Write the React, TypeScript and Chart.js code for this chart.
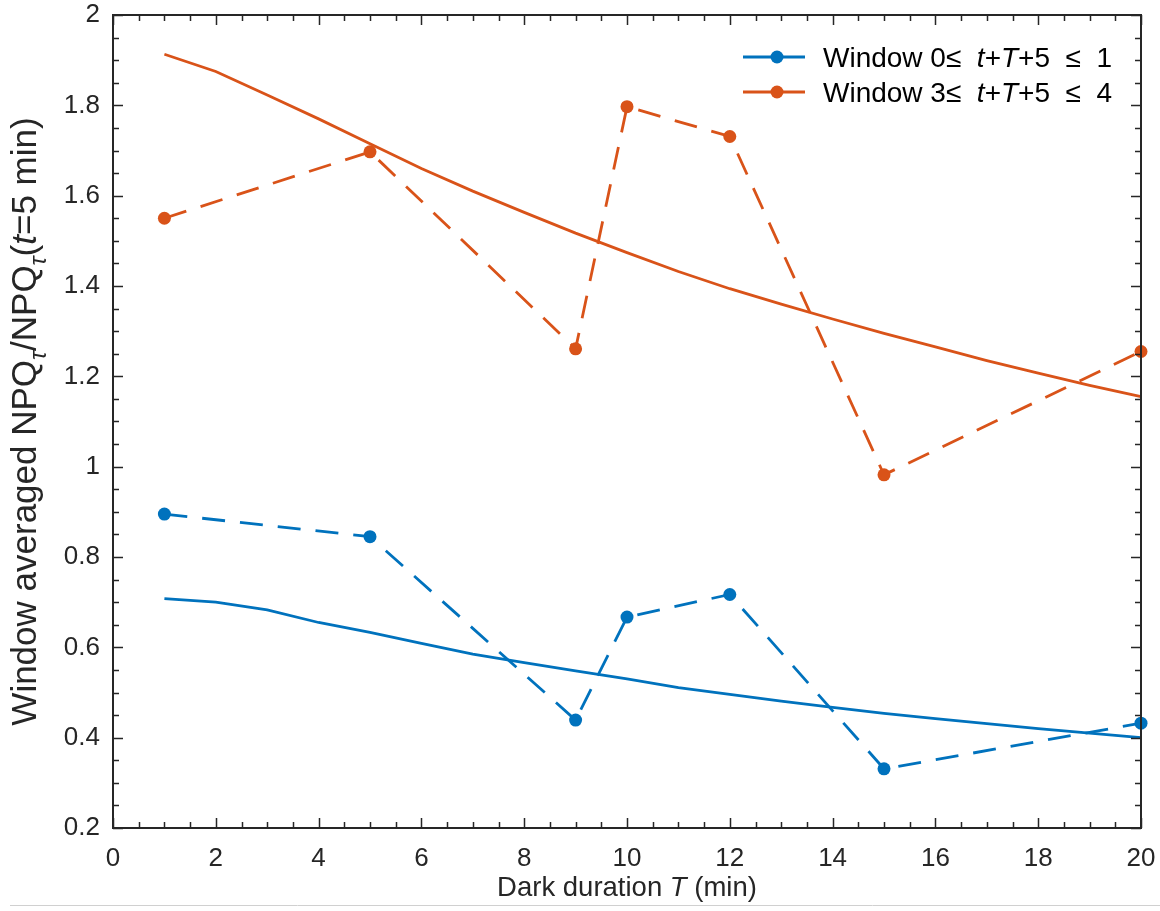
import React, { useEffect, useRef } from "react";
import { Chart, registerables } from "chart.js";

Chart.register(...registerables);

// ---- data ----
const T_FIT = [1, 2, 3, 4, 5, 6, 7, 8, 9, 10, 11, 12, 13, 14, 15, 16, 17, 18, 19, 20];
const blueFit = [0.708, 0.7, 0.683, 0.655, 0.633, 0.609, 0.585, 0.566, 0.548, 0.53, 0.511, 0.496, 0.481, 0.467, 0.454, 0.442, 0.431, 0.42, 0.41, 0.4];
const orangeFit = [1.913, 1.875, 1.823, 1.77, 1.715, 1.66, 1.61, 1.563, 1.517, 1.474, 1.432, 1.394, 1.36, 1.327, 1.295, 1.265, 1.235, 1.207, 1.18, 1.155];

const T_MEAS = [1, 5, 9, 10, 12, 15, 20];
const blueMeas = [0.895, 0.845, 0.439, 0.667, 0.717, 0.331, 0.432];
const orangeMeas = [1.55, 1.697, 1.261, 1.797, 1.731, 0.982, 1.255];

const X_MIN = 0, X_MAX = 20, X_STEP = 2, X_MINOR = 0.5;
const Y_MIN = 0.2, Y_MAX = 2, Y_STEP = 0.2, Y_MINOR = 0.05;

const legendLabels = [
  [
    { t: "Window 0\u2264  ", i: false },
    { t: "t", i: true },
    { t: "+", i: false },
    { t: "T", i: true },
    { t: "+5  \u2264  1", i: false },
  ],
  [
    { t: "Window 3\u2264  ", i: false },
    { t: "t", i: true },
    { t: "+", i: false },
    { t: "T", i: true },
    { t: "+5  \u2264  4", i: false },
  ],
];
const xTitle = [
  { t: "Dark duration ", i: false },
  { t: "T", i: true },
  { t: " (min)", i: false },
];
const yTitle = [
  { t: "Window averaged NPQ", i: false },
  { t: "\u03C4", i: true, sub: true },
  { t: "/NPQ", i: false },
  { t: "\u03C4", i: true, sub: true },
  { t: "(", i: false },
  { t: "t", i: true },
  { t: "=5 min)", i: false },
];

const BLUE = "#0072BD";
const ORANGE = "#D95319";
const AXIS = "#262626";
const FONT = "'Liberation Sans', Arial, Helvetica, sans-serif";

type Seg = { t: string; i: boolean; sub?: boolean };

function segFont(s: Seg, size: number) {
  const sz = s.sub ? Math.round(size * 0.68) : size;
  return `${s.i ? "italic " : ""}${sz}px ${FONT}`;
}
function measureSegs(ctx: CanvasRenderingContext2D, segs: Seg[], size: number) {
  let w = 0;
  for (const s of segs) {
    ctx.font = segFont(s, size);
    w += ctx.measureText(s.t).width;
  }
  return w;
}
function drawSegs(ctx: CanvasRenderingContext2D, segs: Seg[], size: number, x: number, y: number) {
  let cx = x;
  ctx.textAlign = "left";
  ctx.textBaseline = "alphabetic";
  for (const s of segs) {
    ctx.font = segFont(s, size);
    ctx.fillText(s.t, cx, s.sub ? y + size * 0.28 : y);
    cx += ctx.measureText(s.t).width;
  }
}

const decorPlugin = {
  id: "decor",
  afterDraw(chart: any) {
    const { ctx, chartArea: a, scales } = chart;
    const xs = scales.x;
    const ys = scales.y;
    ctx.save();
    // ticks
    ctx.strokeStyle = AXIS;
    ctx.lineWidth = 1.5;
    ctx.beginPath();
    const nx = Math.round((X_MAX - X_MIN) / X_MINOR);
    for (let k = 0; k <= nx; k++) {
      const v = X_MIN + k * X_MINOR;
      const px = Math.round(xs.getPixelForValue(v)) + 0.5;
      const major = Math.abs(v / X_STEP - Math.round(v / X_STEP)) < 1e-6;
      const L = major ? 10 : 6;
      ctx.moveTo(px, a.bottom);
      ctx.lineTo(px, a.bottom - L);
      ctx.moveTo(px, a.top);
      ctx.lineTo(px, a.top + L);
    }
    const ny = Math.round((Y_MAX - Y_MIN) / Y_MINOR);
    for (let k = 0; k <= ny; k++) {
      const v = Y_MIN + k * Y_MINOR;
      const py = Math.round(ys.getPixelForValue(v)) + 0.5;
      const r = (v - Y_MIN) / Y_STEP;
      const major = Math.abs(r - Math.round(r)) < 1e-6;
      const L = major ? 10 : 6;
      ctx.moveTo(a.left, py);
      ctx.lineTo(a.left + L, py);
      ctx.moveTo(a.right, py);
      ctx.lineTo(a.right - L, py);
    }
    ctx.stroke();
    // box
    ctx.lineWidth = 2;
    ctx.strokeRect(a.left, a.top, a.right - a.left, a.bottom - a.top);

    // legend
    const legendColors = [BLUE, ORANGE];
    const rowsY = [57, 92];
    for (let r = 0; r < 2; r++) {
      const y = rowsY[r];
      ctx.strokeStyle = legendColors[r];
      ctx.lineWidth = 2.8;
      ctx.beginPath();
      ctx.moveTo(743, y);
      ctx.lineTo(805, y);
      ctx.stroke();
      ctx.fillStyle = legendColors[r];
      ctx.beginPath();
      ctx.arc(777, y, 6.5, 0, Math.PI * 2);
      ctx.fill();
      ctx.fillStyle = "#000";
      drawSegs(ctx, legendLabels[r] as Seg[], 28, 823, y + 10);
    }

    // x title
    ctx.fillStyle = "#262626";
    const xw = measureSegs(ctx, xTitle as Seg[], 27.5);
    drawSegs(ctx, xTitle as Seg[], 27.5, (a.left + a.right) / 2 - xw / 2, 896);

    // y title
    const yw = measureSegs(ctx, yTitle as Seg[], 35);
    ctx.save();
    ctx.translate(36, (a.top + a.bottom) / 2);
    ctx.rotate(-Math.PI / 2);
    drawSegs(ctx, yTitle as Seg[], 35, -yw / 2, 0);
    ctx.restore();

    // thin page line at bottom
    ctx.strokeStyle = "#d0d0d0";
    ctx.lineWidth = 1;
    ctx.beginPath();
    ctx.moveTo(10, 905.5);
    ctx.lineTo(1160, 905.5);
    ctx.stroke();
    ctx.restore();
  },
};

const zeroPad = (s: any) => {
  s.paddingTop = 0;
  s.paddingBottom = 0;
  s.paddingLeft = 0;
  s.paddingRight = 0;
};

export default function App() {
  const ref = useRef<HTMLCanvasElement | null>(null);
  useEffect(() => {
    if (!ref.current) return;
    const pts = (xs: number[], ys: number[]) => xs.map((x, i) => ({ x, y: ys[i] }));
    const chart = new Chart(ref.current, {
      type: "line",
      data: {
        datasets: [
          {
            label: "Window 0 fit",
            data: pts(T_FIT, blueFit),
            borderColor: BLUE,
            borderWidth: 2.8,
            pointRadius: 0,
            tension: 0,
            clip: false as any,
          },
          {
            label: "Window 3 fit",
            data: pts(T_FIT, orangeFit),
            borderColor: ORANGE,
            borderWidth: 2.8,
            pointRadius: 0,
            tension: 0,
            clip: false as any,
          },
          {
            label: "Window 0\u2264 t+T+5 \u2264 1",
            data: pts(T_MEAS, blueMeas),
            borderColor: BLUE,
            backgroundColor: BLUE,
            borderWidth: 2.8,
            borderDash: [23, 15],
            pointRadius: 6.5,
            pointBorderWidth: 0,
            pointBackgroundColor: BLUE,
            tension: 0,
            clip: false as any,
          },
          {
            label: "Window 3\u2264 t+T+5 \u2264 4",
            data: pts(T_MEAS, orangeMeas),
            borderColor: ORANGE,
            backgroundColor: ORANGE,
            borderWidth: 2.8,
            borderDash: [23, 15],
            pointRadius: 6.5,
            pointBorderWidth: 0,
            pointBackgroundColor: ORANGE,
            tension: 0,
            clip: false as any,
          },
        ],
      },
      options: {
        animation: false,
        responsive: false,
        devicePixelRatio: 1,
        layout: { padding: { top: 15, right: 19, left: 0, bottom: 0 } },
        plugins: { legend: { display: false }, tooltip: { enabled: false }, title: { display: false } },
        scales: {
          x: {
            type: "linear",
            min: X_MIN,
            max: X_MAX,
            grid: { display: false, drawTicks: false },
            border: { display: false },
            ticks: {
              stepSize: X_STEP,
              padding: 15,
              color: "#262626",
              font: { family: FONT, size: 26 },
              maxRotation: 0,
              autoSkip: false,
              callback: (v: any) => String(Number(Number(v).toFixed(2))),
            },
            afterFit: (s: any) => {
              s.height = 911 - 828;
              zeroPad(s);
            },
          },
          y: {
            type: "linear",
            min: Y_MIN,
            max: Y_MAX,
            grid: { display: false, drawTicks: false },
            border: { display: false },
            ticks: {
              stepSize: Y_STEP,
              padding: 13,
              color: "#262626",
              font: { family: FONT, size: 26 },
              autoSkip: false,
              callback: (v: any) => String(Number(Number(v).toFixed(2))),
            },
            afterFit: (s: any) => {
              s.width = 113;
              zeroPad(s);
            },
          },
        },
      },
      plugins: [decorPlugin],
    });
    return () => chart.destroy();
  }, []);
  return (
    <div style={{ position: "fixed", left: 0, top: 0, width: 1160, height: 911, background: "#fff" }}>
      <canvas ref={ref} width={1160} height={911} style={{ display: "block" }} />
    </div>
  );
}
